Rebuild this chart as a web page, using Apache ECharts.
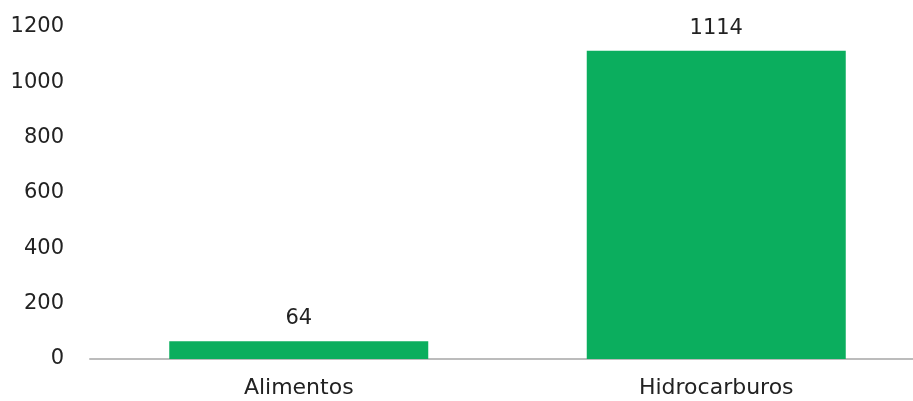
<!DOCTYPE html>
<html>
<head>
<meta charset="utf-8">
<script src="https://cdn.jsdelivr.net/npm/echarts@6/dist/echarts.min.js"></script>
<style>html,body{margin:0;padding:0;background:#fff}#c{width:913px;height:401px}</style>
</head>
<body>
<div id="c"></div>
<script>
var categories = ['Alimentos', 'Hidrocarburos'];
var values = [64, 1114];
var yTicks = {min: 0, max: 1200, interval: 200};

var chart = echarts.init(document.getElementById('c'), null, {renderer: 'canvas'});
var font = '"DejaVu Sans", sans-serif';
chart.setOption({
  animation: false,
  grid: {left: 90, right: -12, top: 27, bottom: 42, outerBoundsMode: 'none', containLabel: false},
  xAxis: {
    type: 'category',
    data: categories,
    axisLine: {lineStyle: {color: '#bcbcbc', width: 2}},
    axisTick: {show: false},
    axisLabel: {color: '#222', fontSize: 22, fontFamily: font, margin: 18}
  },
  yAxis: {
    type: 'value',
    min: yTicks.min, max: yTicks.max, interval: yTicks.interval,
    axisLine: {show: false},
    axisTick: {show: false},
    splitLine: {show: false},
    axisLabel: {color: '#222', fontSize: 21, fontFamily: font, margin: 26,
      formatter: function (v) { return String(v); }}
  },
  series: [{
    type: 'bar',
    data: values,
    barWidth: 259,
    itemStyle: {color: '#0BAE5E'},
    label: {show: true, position: 'top', distance: 12, color: '#222', fontSize: 21, fontFamily: font}
  }]
});
</script>
</body>
</html>
